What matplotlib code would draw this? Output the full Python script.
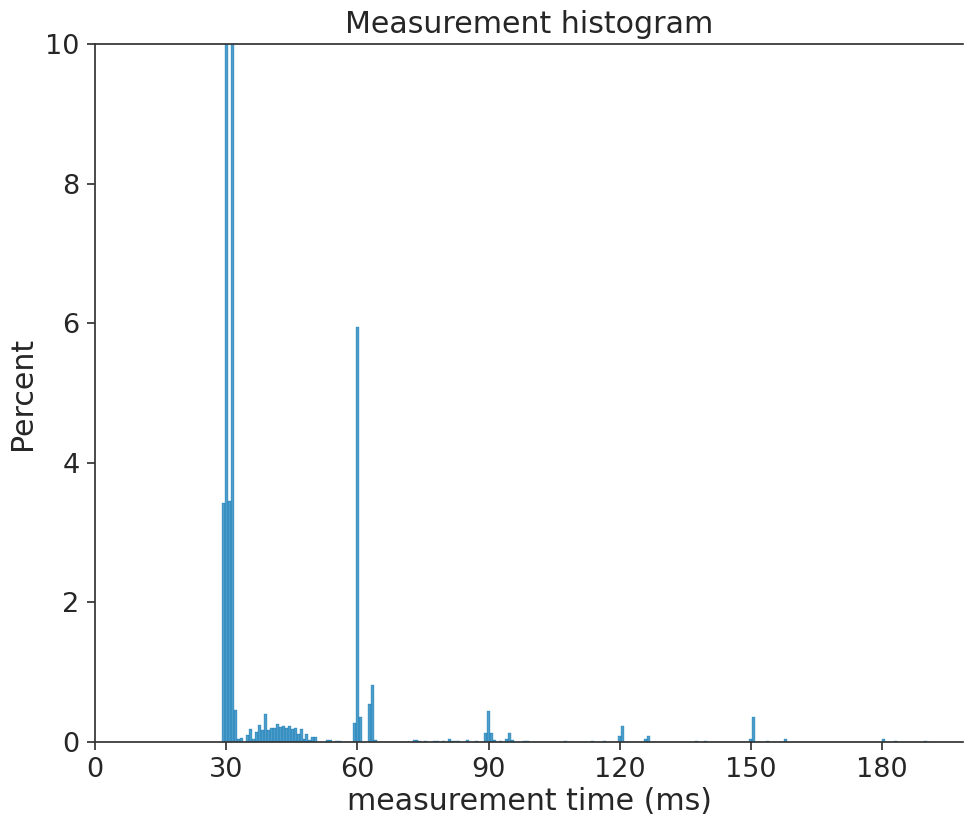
import numpy as np
import matplotlib
matplotlib.use("Agg")
from matplotlib import pyplot as plt

times_ms = [29.44, 30.12, 30.80, 31.48, 32.16, 32.84, 33.52, 34.88, 35.56, 36.24,
            36.92, 37.60, 38.28, 38.96, 39.64, 40.32, 41.00, 41.68, 42.36, 43.04,
            43.72, 44.40, 45.08, 45.76, 46.44, 47.12, 47.80, 48.48, 49.16, 49.84,
            50.52, 53.24, 53.92, 55.28, 55.96, 59.36, 60.04, 60.72, 62.76, 63.44,
            64.12, 72.96, 73.64, 74.32, 75.68, 77.72, 78.40, 79.76, 81.12, 81.80,
            82.48, 83.16, 85.20, 87.24, 89.28, 89.96, 90.64, 91.32, 92.68, 94.04,
            94.72, 95.40, 98.12, 98.80, 107.64, 113.76, 116.48, 119.88, 120.56, 126.00,
            126.68, 137.56, 139.60, 149.80, 150.48, 153.88, 157.96, 180.40, 183.12, 189.92]
percent = [3.43, 39.5, 3.46, 38.6, 0.46, 0.05, 0.06, 0.10, 0.18, 0.04,
           0.15, 0.24, 0.17, 0.40, 0.17, 0.20, 0.20, 0.26, 0.22, 0.23,
           0.20, 0.23, 0.18, 0.20, 0.12, 0.18, 0.04, 0.11, 0.03, 0.07,
           0.07, 0.03, 0.03, 0.01, 0.01, 0.27, 5.95, 0.36, 0.54, 0.82,
           0.03, 0.03, 0.03, 0.02, 0.02, 0.02, 0.02, 0.02, 0.04, 0.02,
           0.02, 0.02, 0.03, 0.02, 0.13, 0.44, 0.13, 0.03, 0.02, 0.04,
           0.13, 0.03, 0.01, 0.01, 0.02, 0.02, 0.02, 0.09, 0.23, 0.04,
           0.08, 0.02, 0.02, 0.04, 0.36, 0.02, 0.04, 0.04, 0.02, 0.02]

bin_start = 29.1
bin_width = 0.68
x_ticks = [0, 30, 60, 90, 120, 150, 180]
y_ticks = [0, 2, 4, 6, 8, 10]

text_color = "#262626"
spine_color = "#333333"
bar_color = "#0173B2"


def make_plot():
    plt.rcParams["font.family"] = ["DejaVu Sans"]
    fig = plt.figure(figsize=(9.64, 8.18), dpi=100)
    ax = fig.add_axes([0.0985, 0.0929, 0.9005, 0.8533])

    edges = bin_start + bin_width * np.arange(0, 240)
    ax.hist(times_ms, bins=edges, weights=percent, color=bar_color, alpha=0.7,
            edgecolor=bar_color, linewidth=0.3)

    ax.set_xlim(0, 198.5)
    ax.set_ylim(0, 10)
    ax.set_xticks(x_ticks)
    ax.set_yticks(y_ticks)
    ax.tick_params(axis="both", labelsize=19.5, colors=spine_color, labelcolor=text_color,
                   length=6, width=1.25, direction="out", pad=5)

    ax.spines["right"].set_visible(False)
    for side in ["left", "bottom", "top"]:
        ax.spines[side].set_color(spine_color)
        ax.spines[side].set_linewidth(1.25)

    ax.set_title("Measurement histogram", fontsize=21.6, color=text_color, pad=8)
    ax.set_xlabel("measurement time (ms)", fontsize=21.6, color=text_color, labelpad=3)
    ax.set_ylabel("Percent", fontsize=21.6, color=text_color, labelpad=6)

    fig.savefig("out.png", dpi=100)


if __name__ == '__main__':
    make_plot()
